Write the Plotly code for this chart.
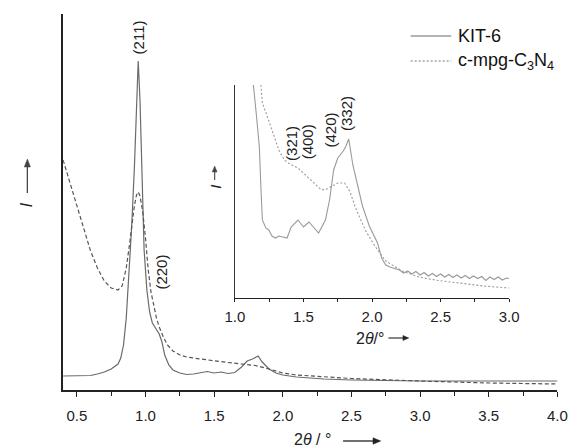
import plotly.graph_objects as go

W, H = 579, 447

# ---- main panel data (2theta in degrees, intensity a.u.) ----
kit6_x = [0.40, 0.50, 0.60, 0.65, 0.70, 0.75, 0.80, 0.82, 0.84, 0.86,
          0.88, 0.90, 0.92, 0.935, 0.947, 0.96, 0.975, 0.99, 1.01, 1.03,
          1.05, 1.08, 1.10, 1.12, 1.14, 1.17, 1.20, 1.25, 1.30, 1.35,
          1.40, 1.45, 1.50, 1.55, 1.60, 1.65, 1.70, 1.74, 1.78, 1.82,
          1.85, 1.90, 1.95, 2.00, 2.10, 2.30, 2.50, 3.00, 3.50, 4.00]
kit6_y = [14, 14, 14.5, 16, 18, 21, 26, 32, 45, 72,
          115, 165, 225, 285, 329, 290, 210, 140, 100, 78,
          67, 60, 56, 48, 35, 25, 20, 17, 15.5, 16,
          17.5, 18.5, 17, 18, 16.5, 17.5, 23, 29, 31, 34,
          28, 21, 17, 15, 13, 11, 10, 9, 9, 9]

cn_x = [0.40, 0.45, 0.50, 0.55, 0.60, 0.65, 0.70, 0.75, 0.80, 0.83,
        0.86, 0.88, 0.90, 0.92, 0.935, 0.947, 0.96, 0.98, 1.00, 1.02,
        1.04, 1.06, 1.08, 1.10, 1.13, 1.16, 1.20, 1.25, 1.30, 1.40,
        1.50, 1.60, 1.70, 1.80, 1.90, 2.00, 2.10, 2.30, 2.50, 3.00,
        3.50, 4.00]
cn_y = [230, 207, 183, 160, 139, 122, 109, 102, 100, 104,
        122, 142, 165, 185, 195, 198, 194, 178, 152, 120,
        98, 84, 72, 63, 53, 45, 39, 35, 33, 31,
        29, 27.5, 26, 24.5, 21, 17, 15, 13, 11.5, 9,
        7, 6]

# ---- inset data ----
ins_kit6_x = [1.12, 1.131, 1.155, 1.178, 1.19, 1.20, 1.225, 1.247, 1.27, 1.295,
              1.32, 1.345, 1.38, 1.41, 1.46, 1.50, 1.54, 1.61, 1.66, 1.69,
              1.72, 1.75, 1.79, 1.81, 1.83, 1.86, 1.89, 1.93, 1.98, 2.04,
              2.07, 2.10, 2.13, 2.16, 2.20, 2.23, 2.26, 2.29, 2.32, 2.35,
              2.38, 2.41, 2.44, 2.47, 2.50, 2.53, 2.56, 2.59, 2.62, 2.65,
              2.68, 2.71, 2.74, 2.77, 2.80, 2.83, 2.86, 2.89, 2.92, 2.95,
              2.98, 3.00]
ins_kit6_y = [250, 218, 185, 151, 108, 78, 70, 68, 62, 60,
              62, 61, 60, 71, 78, 71, 76, 65, 78, 98,
              128, 140, 147, 152, 159, 133, 115, 92, 72, 55,
              40, 33, 31, 29.5, 28, 25, 27, 24, 26.5, 23,
              25.5, 22, 24.5, 21.5, 24, 21, 23.5, 20.5, 23, 20,
              22.5, 19.5, 22, 19.5, 21.5, 17.5, 21, 18.5, 21, 18,
              20, 19.5]

ins_cn_x = [1.17, 1.19, 1.20, 1.24, 1.28, 1.32, 1.36, 1.40, 1.46, 1.50,
            1.54, 1.58, 1.63, 1.67, 1.70, 1.75, 1.80, 1.84, 1.88, 1.95,
            2.02, 2.10, 2.22, 2.34, 2.46, 2.58, 2.70, 2.81, 3.00]
ins_cn_y = [245, 213, 195, 180, 163, 148, 138, 134, 130, 125,
            120, 114, 108, 109, 111, 115, 115, 106, 90, 68,
            52, 37, 27, 21, 18, 16, 14, 12, 10]

main_ticks = [0.5, 1.0, 1.5, 2.0, 2.5, 3.0, 3.5, 4.0]
inset_ticks = [1.0, 1.5, 2.0, 2.5, 3.0]
tick_text_main = ["0.5", "1.0", "1.5", "2.0", "2.5", "3.0", "3.5", "4.0"]
tick_text_inset = ["1.0", "1.5", "2.0", "2.5", "3.0"]

legend_names = ["KIT-6", "c-mpg-C<sub>3</sub>N<sub>4</sub>"]
peak_main = [("(211)", 133, 37), ("(220)", 156, 272)]
peak_inset = [("(321)", 292, 143), ("(400)", 308, 142), ("(420)", 332, 130), ("(332)", 348, 113)]


def px(x):
    return x / W


def py(y):
    return 1 - y / H


FONT = "Arial, Liberation Sans, sans-serif"

fig = go.Figure()
fig.add_trace(go.Scatter(x=kit6_x, y=kit6_y, mode="lines", line=dict(color="#6a6a6a", width=1.2),
                         xaxis="x", yaxis="y", showlegend=False, hoverinfo="skip"))
fig.add_trace(go.Scatter(x=cn_x, y=cn_y, mode="lines", line=dict(color="#555555", width=1.2, dash="4px,2.5px"),
                         xaxis="x", yaxis="y", showlegend=False, hoverinfo="skip"))
fig.add_trace(go.Scatter(x=ins_kit6_x, y=ins_kit6_y, mode="lines", line=dict(color="#9a9a9a", width=1.1),
                         xaxis="x2", yaxis="y2", showlegend=False, hoverinfo="skip"))
fig.add_trace(go.Scatter(x=ins_cn_x, y=ins_cn_y, mode="lines", line=dict(color="#9a9a9a", width=1.1, dash="2px,2px"),
                         xaxis="x2", yaxis="y2", showlegend=False, hoverinfo="skip"))

axis_common = dict(showgrid=False, zeroline=False, showline=True, linecolor="#222", ticks="outside",
                   tickcolor="#222", tickfont=dict(family=FONT, size=15, color="#222"))

fig.update_layout(
    width=W, height=H, margin=dict(l=0, r=0, t=0, b=0),
    paper_bgcolor="white", plot_bgcolor="white",
    xaxis=dict(domain=[px(55), px(567)], range=[0.4, 4.0], tickvals=main_ticks, ticktext=tick_text_main,
               ticklen=5, tickwidth=1.3, linewidth=1.5, ticklabelstandoff=6,
               minor=dict(dtick=0.25, tick0=0.25, ticks="outside", ticklen=4, tickcolor="#222", tickwidth=1.2),
               anchor="y", **axis_common),
    yaxis=dict(domain=[py(390), py(14)], range=[0, 376], showgrid=False, zeroline=False, showline=True,
               linecolor="#222", linewidth=1.5, showticklabels=False, ticks="", anchor="x"),
    xaxis2=dict(domain=[px(233), px(517)], range=[1.0, 3.0], tickvals=inset_ticks, ticktext=tick_text_inset,
                ticklen=3, tickwidth=1.1, linewidth=1.2, ticklabelstandoff=2,
                minor=dict(dtick=0.25, tick0=0.25, ticks="outside", ticklen=3, tickcolor="#222", tickwidth=1.0),
                anchor="y2", **axis_common),
    yaxis2=dict(domain=[py(298), py(85)], range=[0, 213], showgrid=False, zeroline=False, showline=True,
                linecolor="#333", linewidth=1.2, showticklabels=False, ticks="", anchor="x2"),
)


def label(txt, x, y, size, angle=0, xanchor="center", color="#222"):
    return dict(text=txt, x=px(x), y=py(y), xref="paper", yref="paper", showarrow=False, textangle=angle,
                font=dict(family=FONT, size=size, color=color), xanchor=xanchor, yanchor="middle")


ann = []
for txt, x, y in peak_main + peak_inset:
    ann.append(label(txt, x, y, 15, angle=-90))

# axis titles
ann.append(label("2<i>θ</i> / °", 313, 439, 16))
ann.append(label("<i>I</i>", 17, 205, 17, angle=-90))
ann.append(label("2<i>θ</i>/°", 373, 338, 16))
ann.append(label("<i>I</i>", 212, 187, 15, angle=-90))

# legend text
ann.append(label(legend_names[0], 462, 36, 18, xanchor="left", color="#111"))
ann.append(label(legend_names[1], 462, 61, 18, xanchor="left", color="#111"))


def arrow(x0, y0, x1, y1, hl, hw, color, width):
    """shapes for an arrow from (x0,y0) to head at (x1,y1), pixel coords"""
    shp = []
    if y0 == y1:  # horizontal
        xb = x1 - hl
        shp.append(dict(type="line", xref="paper", yref="paper", x0=px(x0), x1=px(xb), y0=py(y0), y1=py(y1),
                        line=dict(color=color, width=width)))
        path = f"M {px(xb)} {py(y1 - hw)} L {px(x1)} {py(y1)} L {px(xb)} {py(y1 + hw)} Z"
    else:  # vertical, pointing up
        yb = y1 + hl
        shp.append(dict(type="line", xref="paper", yref="paper", x0=px(x0), x1=px(x1), y0=py(y0), y1=py(yb),
                        line=dict(color=color, width=width)))
        path = f"M {px(x1 - hw)} {py(yb)} L {px(x1)} {py(y1)} L {px(x1 + hw)} {py(yb)} Z"
    shp.append(dict(type="path", xref="paper", yref="paper", path=path, fillcolor=color,
                    line=dict(color=color, width=0.5)))
    return shp


shapes = [
    dict(type="line", xref="paper", yref="paper", x0=px(415), x1=px(457), y0=py(36), y1=py(36),
         line=dict(color="#6a6a6a", width=1.2)),
    dict(type="line", xref="paper", yref="paper", x0=px(415), x1=px(457), y0=py(61), y1=py(61),
         line=dict(color="#777777", width=1.1, dash="2px,2px")),
]
shapes += arrow(345, 441, 384, 441, 8, 3.2, "#222", 1.3)
shapes += arrow(18, 193, 18, 159, 8, 3.2, "#444", 1.3)
shapes += arrow(392, 338, 413, 338, 6, 2.5, "#222", 1.1)
shapes += arrow(212, 180, 212, 166, 6, 2.5, "#444", 1.1)

fig.update_layout(annotations=ann, shapes=shapes)

fig.write_html("out.html", config={"displayModeBar": False},
               post_script="document.body.style.margin='0';document.body.style.padding='0';")
